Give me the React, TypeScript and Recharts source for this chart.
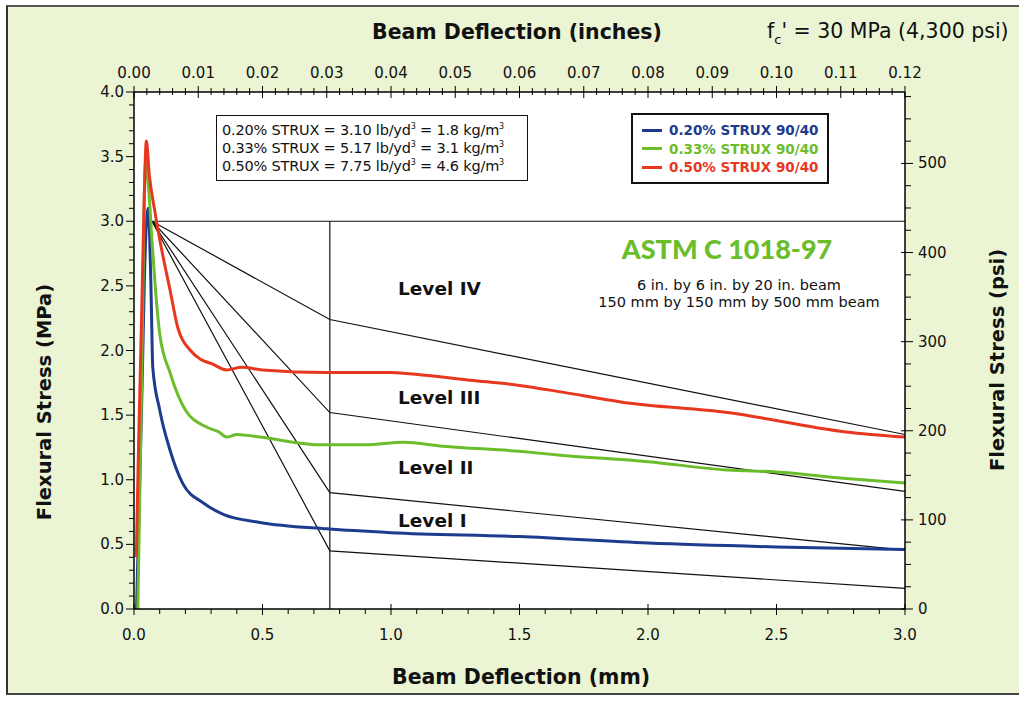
import React from "react";
import {
  LineChart,
  Line,
  XAxis,
  YAxis,
  ReferenceArea,
} from "recharts";

// deflection (mm) / flexural stress (MPa)
const blueX = [0.01, 0.03, 0.045, 0.055, 0.06, 0.067, 0.073, 0.1, 0.14, 0.19, 0.27, 0.35, 0.49, 0.75, 1.0, 1.5, 2.0, 2.5, 3.0];
const blueY = [0.0, 1.6, 2.85, 3.1, 2.95, 2.4, 1.87, 1.54, 1.23, 0.97, 0.82, 0.73, 0.67, 0.62, 0.59, 0.56, 0.51, 0.48, 0.46];

const greenX = [0.015, 0.03, 0.045, 0.055, 0.07, 0.087, 0.1, 0.14, 0.2, 0.28, 0.33, 0.36, 0.4, 0.49, 0.73, 0.9, 1.05, 1.2, 1.5, 1.66, 2.0, 2.31, 2.5, 2.77, 3.0];
const greenY = [0.0, 1.8, 3.45, 3.3, 2.85, 2.39, 2.13, 1.83, 1.54, 1.41, 1.37, 1.33, 1.35, 1.33, 1.27, 1.27, 1.29, 1.26, 1.22, 1.19, 1.14, 1.075, 1.06, 1.01, 0.975];

const redX = [0.009, 0.016, 0.022, 0.03, 0.04, 0.048, 0.06, 0.08, 0.1, 0.14, 0.17, 0.22, 0.26, 0.3, 0.36, 0.42, 0.5, 0.75, 1.0, 1.12, 1.31, 1.5, 1.66, 1.9, 2.31, 2.77, 3.0];
const redY = [0.4, 1.1, 1.62, 2.3, 3.2, 3.62, 3.35, 3.09, 2.86, 2.47, 2.18, 2.0, 1.93, 1.9, 1.85, 1.87, 1.85, 1.83, 1.83, 1.81, 1.77, 1.73, 1.68, 1.6, 1.52, 1.37, 1.33];

// ASTM C1018 level lines
const levelX = [0.07, 0.762, 3.0];
const level4Y = [3.0, 2.24, 1.35];
const level3Y = [3.0, 1.52, 0.91];
const level2Y = [3.0, 0.9, 0.455];
const level1Y = [3.0, 0.45, 0.16];
const capX = [0.07, 3.0];
const capY = [3.0, 3.0];
const limitX = [0.762, 0.762];
const limitY = [3.0, 0.0];

// inch scale span, only used to anchor the top axis
const inchSpanX = [0, 0.12];
const inchSpanY = [0, 0];

const mmTicks = [0, 0.5, 1.0, 1.5, 2.0, 2.5, 3.0];
const inchTicks = [0, 0.01, 0.02, 0.03, 0.04, 0.05, 0.06, 0.07, 0.08, 0.09, 0.1, 0.11, 0.12];
const mpaTicks = [0, 0.5, 1.0, 1.5, 2.0, 2.5, 3.0, 3.5, 4.0];
const psiTicks = [0, 100, 200, 300, 400, 500];

const mmMinor = Array.from({ length: 31 }, (_, i) => +(i * 0.1).toFixed(2));
const inchMinor = Array.from({ length: 61 }, (_, i) => +(i * 0.002).toFixed(3));
const mpaMinor = Array.from({ length: 41 }, (_, i) => +(i * 0.1).toFixed(2));
const psiMinor = Array.from({ length: 24 }, (_, i) => i * 25);

const PSI_MAX = 4 * 145.038;

const BLUE = "#1d3c8e";
const GREEN = "#6cbd2b";
const RED = "#e8371f";
const BG = "#ebf4d3";
const FONT = "'DejaVu Sans', sans-serif";

const toPts = (xs: number[], ys: number[]) => xs.map((x, i) => ({ x, y: ys[i] }));
const has = (list: number[], v: number) => list.some((t) => Math.abs(t - v) < 1e-6);

const BottomTick = ({ x, y, payload }: any) => {
  const major = has(mmTicks, payload.value);
  return (
    <g>
      <line x1={x} x2={x} y1={y - (major ? 5 : 0)} y2={y + (major ? 6 : 5)} stroke="#000" />
      {major && (
        <text x={x} y={y + 31} textAnchor="middle" fontSize={15} fontFamily={FONT} fill="#111">
          {payload.value.toFixed(1)}
        </text>
      )}
    </g>
  );
};

const TopTick = ({ x, y, payload }: any) => {
  const major = has(inchTicks, payload.value);
  return (
    <g>
      <line x1={x} x2={x} y1={y - (major ? 6 : 4)} y2={y + (major ? 6 : 3)} stroke="#000" />
      {major && (
        <text x={x} y={y - 14} textAnchor="middle" fontSize={15} fontFamily={FONT} fill="#111">
          {payload.value.toFixed(2)}
        </text>
      )}
    </g>
  );
};

const LeftTick = ({ x, y, payload }: any) => {
  const major = has(mpaTicks, payload.value);
  return (
    <g>
      <line x1={x - (major ? 8 : 5)} x2={x} y1={y} y2={y} stroke="#000" />
      {major && (
        <text x={x - 10} y={y + 5} textAnchor="end" fontSize={15} fontFamily={FONT} fill="#111">
          {payload.value.toFixed(1)}
        </text>
      )}
    </g>
  );
};

const RightTick = ({ x, y, payload }: any) => {
  const major = has(psiTicks, payload.value);
  return (
    <g>
      <line x1={x - (major ? 4 : 0)} x2={x + (major ? 8 : 6)} y1={y} y2={y} stroke="#000" />
      {major && (
        <text x={x + 13} y={y + 5} textAnchor="start" fontSize={15} fontFamily={FONT} fill="#111">
          {payload.value}
        </text>
      )}
    </g>
  );
};

const abs = (left: number, top: number, extra: React.CSSProperties = {}): React.CSSProperties => ({
  position: "absolute",
  left,
  top,
  fontFamily: FONT,
  color: "#111",
  whiteSpace: "nowrap",
  lineHeight: 1,
  pointerEvents: "none",
  ...extra,
});

const sup = { fontSize: 8, lineHeight: 0 } as React.CSSProperties;

export default function App() {
  const levelLine = (key: string, xs: number[], ys: number[]) => (
    <Line
      key={key}
      xAxisId="mm"
      yAxisId="mpa"
      data={toPts(xs, ys)}
      dataKey="y"
      type="linear"
      stroke="#111"
      strokeWidth={1.2}
      dot={false}
      isAnimationActive={false}
    />
  );

  const curve = (key: string, xs: number[], ys: number[], color: string) => (
    <Line
      key={key}
      xAxisId="mm"
      yAxisId="mpa"
      data={toPts(xs, ys)}
      dataKey="y"
      type="monotone"
      stroke={color}
      strokeWidth={3}
      dot={false}
      isAnimationActive={false}
    />
  );

  return (
    <div style={{ position: "absolute", left: 0, top: 0, width: 1019, height: 701, background: "#fff" }}>
      {/* panel frame */}
      <div
        style={{
          position: "absolute",
          left: 6,
          top: 5,
          width: 1013,
          height: 690,
          background: BG,
          borderLeft: "2px solid #333",
          borderTop: "2px solid #555",
          borderBottom: "2px solid #444",
          boxSizing: "border-box",
        }}
      />
      <div style={{ position: "absolute", left: 0, top: 0 }}>
        <LineChart width={1019} height={701} margin={{ top: 0, right: 0, bottom: 0, left: 0 }}>
          <XAxis
            xAxisId="mm"
            dataKey="x"
            type="number"
            domain={[0, 3]}
            ticks={mmMinor}
            interval={0}
            height={92}
            tickSize={0}
            tickMargin={0}
            tickLine={false}
            tick={<BottomTick />}
            axisLine={{ stroke: "#000", strokeWidth: 1.5 }}
            allowDataOverflow
          />
          <XAxis
            xAxisId="in"
            dataKey="x"
            orientation="top"
            type="number"
            domain={[0, 0.12]}
            ticks={inchMinor}
            interval={0}
            height={92}
            tickSize={0}
            tickMargin={0}
            tickLine={false}
            tick={<TopTick />}
            axisLine={{ stroke: "#000", strokeWidth: 1.5 }}
            allowDataOverflow
          />
          <YAxis
            yAxisId="mpa"
            type="number"
            domain={[0, 4]}
            ticks={mpaMinor}
            interval={0}
            width={134}
            tickSize={0}
            tickMargin={0}
            tickLine={false}
            tick={<LeftTick />}
            axisLine={{ stroke: "#000", strokeWidth: 1.5 }}
            allowDataOverflow
          />
          <YAxis
            yAxisId="psi"
            orientation="right"
            type="number"
            domain={[0, PSI_MAX]}
            ticks={psiMinor}
            interval={0}
            width={114}
            tickSize={0}
            tickMargin={0}
            tickLine={false}
            tick={<RightTick />}
            axisLine={{ stroke: "#000", strokeWidth: 1.5 }}
            allowDataOverflow
          />
          <ReferenceArea
            xAxisId="mm"
            yAxisId="mpa"
            x1={0}
            x2={3}
            y1={0}
            y2={4}
            fill="#fff"
            fillOpacity={1}
            stroke="none"
          />
          <Line
            xAxisId="in"
            yAxisId="mpa"
            data={toPts(inchSpanX, inchSpanY)}
            dataKey="y"
            stroke="none"
            dot={false}
            activeDot={false}
            isAnimationActive={false}
          />
          {levelLine("cap", capX, capY)}
          {levelLine("limit", limitX, limitY)}
          {levelLine("l4", levelX, level4Y)}
          {levelLine("l3", levelX, level3Y)}
          {levelLine("l2", levelX, level2Y)}
          {levelLine("l1", levelX, level1Y)}
          {curve("blue", blueX, blueY, BLUE)}
          {curve("green", greenX, greenY, GREEN)}
          {curve("red", redX, redY, RED)}
        </LineChart>
      </div>

      {/* titles */}
      <div style={abs(372, 22, { fontSize: 20.5, fontWeight: 700 })}>Beam Deflection (inches)</div>
      <div style={abs(767, 21, { fontSize: 20.5 })}>
        f<sub style={{ fontSize: 13, lineHeight: 0, verticalAlign: -6 }}>c</sub>' = 30 MPa (4,300 psi)
      </div>
      <div style={abs(392, 667, { fontSize: 20.5, fontWeight: 700 })}>Beam Deflection (mm)</div>
      <div
        style={abs(45, 402, {
          fontSize: 19.5,
          fontWeight: 700,
          transform: "translate(-50%, -50%) rotate(-90deg)",
        })}
      >
        Flexural Stress (MPa)
      </div>
      <div
        style={abs(998, 360, {
          fontSize: 19.5,
          fontWeight: 700,
          transform: "translate(-50%, -50%) rotate(-90deg)",
        })}
      >
        Flexural Stress (psi)
      </div>

      {/* dosage box */}
      <div
        style={abs(216, 115, {
          width: 312,
          height: 66,
          boxSizing: "border-box",
          border: "1.5px solid #111",
          background: "#fff",
          fontSize: 14.5,
          padding: "5px 0 0 5px",
          lineHeight: "18px",
          letterSpacing: -0.2,
        })}
      >
        <div>0.20% STRUX = 3.10 lb/yd<sup style={sup}>3</sup> = 1.8 kg/m<sup style={sup}>3</sup></div>
        <div>0.33% STRUX = 5.17 lb/yd<sup style={sup}>3</sup> = 3.1 kg/m<sup style={sup}>3</sup></div>
        <div>0.50% STRUX = 7.75 lb/yd<sup style={sup}>3</sup> = 4.6 kg/m<sup style={sup}>3</sup></div>
      </div>

      {/* legend */}
      <div
        style={abs(631, 113, {
          width: 198,
          height: 71,
          boxSizing: "border-box",
          border: "2px solid #111",
          background: "#fff",
          fontSize: 13.5,
          fontWeight: 700,
          padding: "6px 0 0 9px",
          lineHeight: "18.5px",
        })}
      >
        {[
          ["0.20% STRUX 90/40", BLUE],
          ["0.33% STRUX 90/40", GREEN],
          ["0.50% STRUX 90/40", RED],
        ].map(([label, color]) => (
          <div key={label} style={{ display: "flex", alignItems: "center", color }}>
            <span style={{ display: "inline-block", width: 20, height: 3, background: color, marginRight: 7 }} />
            {label}
          </div>
        ))}
      </div>

      {/* ASTM note */}
      <div
        style={abs(727, 235, {
          fontFamily: "Lato, sans-serif",
          fontSize: 27,
          fontWeight: 900,
          color: GREEN,
          transform: "translateX(-50%)",
        })}
      >
        ASTM C 1018-97
      </div>
      <div
        style={abs(739, 277, {
          fontSize: 14.5,
          transform: "translateX(-50%)",
          textAlign: "center",
          lineHeight: "17px",
        })}
      >
        6 in. by 6 in. by 20 in. beam
        <br />
        150 mm by 150 mm by 500 mm beam
      </div>

      {/* level labels */}
      <div style={abs(398, 280, { fontSize: 18.5, fontWeight: 700 })}>Level IV</div>
      <div style={abs(398, 389, { fontSize: 18.5, fontWeight: 700 })}>Level III</div>
      <div style={abs(398, 459, { fontSize: 18.5, fontWeight: 700 })}>Level II</div>
      <div style={abs(398, 512, { fontSize: 18.5, fontWeight: 700 })}>Level I</div>
    </div>
  );
}
